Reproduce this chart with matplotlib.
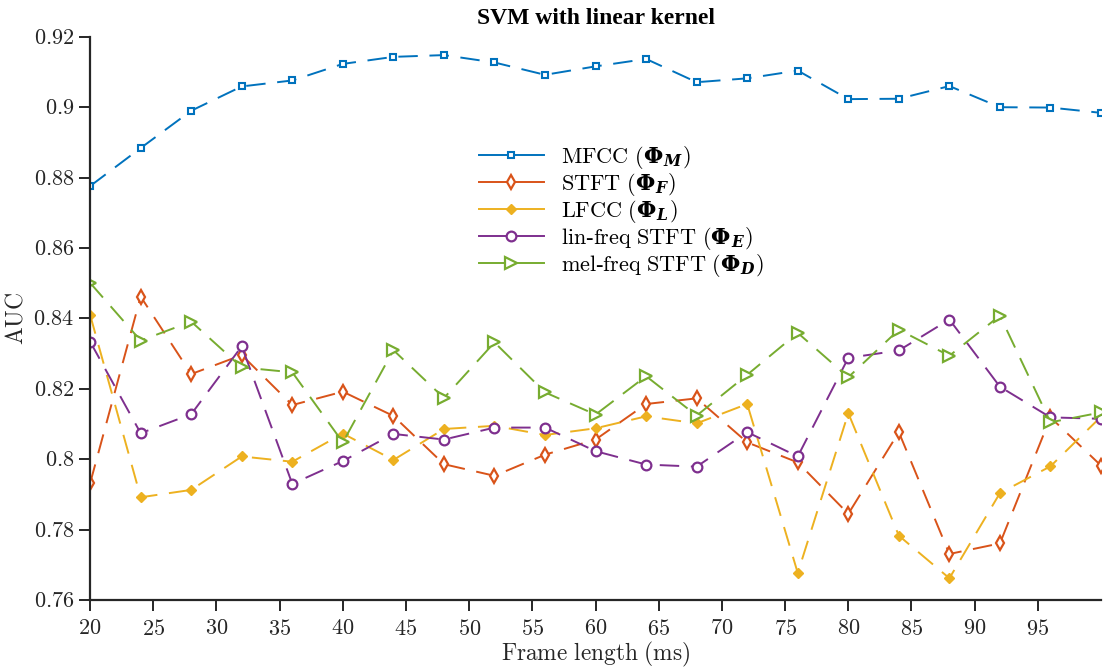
import matplotlib
matplotlib.use("Agg")
import matplotlib.pyplot as plt

plt.rcParams['font.family'] = ['Liberation Serif', 'DejaVu Serif']
plt.rcParams['mathtext.fontset'] = 'custom'
plt.rcParams['mathtext.rm'] = 'cmr10'
plt.rcParams['mathtext.it'] = 'cmmi10'
plt.rcParams['mathtext.bf'] = 'DejaVu Serif:bold'
plt.rcParams['mathtext.bfit'] = 'DejaVu Serif:italic:bold'

frame_ms = [20, 24, 28, 32, 36, 40, 44, 48, 52, 56, 60, 64, 68, 72, 76, 80, 84, 88, 92, 96, 100]

mfcc = [0.8776, 0.8884, 0.8990, 0.9059, 0.9076, 0.9123, 0.9143, 0.9148, 0.9127, 0.9092,
        0.9116, 0.9137, 0.9071, 0.9082, 0.9104, 0.9023, 0.9024, 0.9060, 0.9000, 0.8999, 0.8984]
stft = [0.7932, 0.8462, 0.8242, 0.8296, 0.8154, 0.8192, 0.8123, 0.7986, 0.7953, 0.8013,
        0.8056, 0.8157, 0.8173, 0.8048, 0.7991, 0.7845, 0.8077, 0.7731, 0.7761, 0.8119, 0.7982]
lfcc = [0.8410, 0.7892, 0.7913, 0.8008, 0.7993, 0.8073, 0.7998, 0.8086, 0.8095, 0.8069,
        0.8088, 0.8122, 0.8102, 0.8157, 0.7677, 0.8131, 0.7783, 0.7662, 0.7904, 0.7980, 0.8121]
lin_stft = [0.8334, 0.8074, 0.8128, 0.8321, 0.7930, 0.7995, 0.8072, 0.8056, 0.8090, 0.8090,
            0.8023, 0.7985, 0.7979, 0.8077, 0.8008, 0.8288, 0.8309, 0.8397, 0.8206, 0.8119, 0.8115]
mel_stft = [0.8501, 0.8337, 0.8391, 0.8261, 0.8247, 0.8048, 0.8310, 0.8174, 0.8332, 0.8190,
            0.8127, 0.8236, 0.8124, 0.8240, 0.8359, 0.8233, 0.8368, 0.8294, 0.8408, 0.8105, 0.8133]

labels = [r'$\mathrm{MFCC}\ (\mathbf{\Phi}_{\mathbfit{M}})$',
          r'$\mathrm{STFT}\ (\mathbf{\Phi}_{\mathbfit{F}})$',
          r'$\mathrm{LFCC}\ (\mathbf{\Phi}_{\mathbfit{L}})$',
          r'$\mathrm{lin}$-$\mathrm{freq\ STFT}\ (\mathbf{\Phi}_{\mathbfit{E}})$',
          r'$\mathrm{mel}$-$\mathrm{freq\ STFT}\ (\mathbf{\Phi}_{\mathbfit{D}})$']
xticks = list(range(20, 100, 5))
yticks = [0.76, 0.78, 0.8, 0.82, 0.84, 0.86, 0.88, 0.9, 0.92]
ytick_labels = ['0.76', '0.78', '0.8', '0.82', '0.84', '0.86', '0.88', '0.9', '0.92']

fig = plt.figure(figsize=(11.06, 6.69), dpi=100)
ax = fig.add_axes([0.0815, 0.103, 0.914, 0.842])

dash = (0, (10, 6))
ax.plot(frame_ms, mfcc, color='#0072BD', linestyle=dash, lw=1.4, marker='s', ms=5,
        mfc='white', mew=1.5, label=labels[0])
ax.plot(frame_ms, stft, color='#D95319', linestyle=dash, lw=1.4, marker='d', ms=7,
        mfc='white', mew=1.6, label=labels[1])
ax.plot(frame_ms, lfcc, color='#EDB120', linestyle=dash, lw=1.4, marker='D', ms=5.5,
        mfc='#EDB120', mew=1.0, label=labels[2])
ax.plot(frame_ms, lin_stft, color='#7E2F8E', linestyle=dash, lw=1.4, marker='o', ms=7,
        mfc='white', mew=1.6, label=labels[3])
ax.plot(frame_ms, mel_stft, color='#77AC30', linestyle=dash, lw=1.4, marker='>', ms=8,
        mfc='white', mew=1.6, label=labels[4])

ax.set_xlim(20, 100)
ax.set_ylim(0.76, 0.92)
ax.set_xticks(xticks)
ax.set_xticklabels(['$%d$' % t for t in xticks])
ax.set_yticks(yticks)
ax.set_yticklabels(['$%s$' % t for t in ytick_labels])
ax.spines['top'].set_visible(False)
ax.spines['right'].set_visible(False)
for s in ['left', 'bottom']:
    ax.spines[s].set_linewidth(1.6)
    ax.spines[s].set_color('#262626')
ax.tick_params(direction='out', length=8, width=1.4, colors='#262626', labelsize=16)
ax.tick_params(axis='x', pad=6)

ax.set_title('SVM with linear kernel', fontsize=17, fontweight='bold', pad=9)
ax.set_xlabel(r'$\mathrm{Frame\ length\ (ms)}$', fontsize=16.8, color='#262626', labelpad=0)
ax.set_ylabel(r'$\mathrm{AUC}$', fontsize=17, color='#262626', labelpad=4)

leg = ax.legend(loc='upper left', bbox_to_anchor=(0.365, 0.845), frameon=False,
                fontsize=16, handlelength=2.9, labelspacing=0.0, handletextpad=0.8)
for h in leg.legend_handles:
    h.set_linestyle('-')

fig.savefig('out.png', dpi=100)
